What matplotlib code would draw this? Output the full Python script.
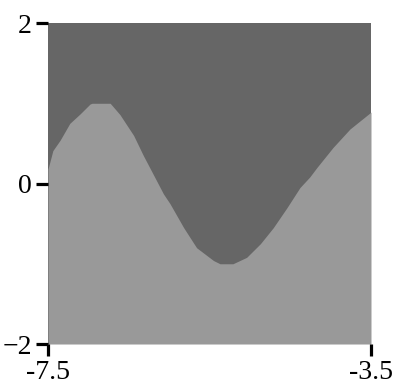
import numpy as np
import matplotlib.pyplot as plt

# boundary between the two regions
xb = [-7.5, -7.44, -7.35, -7.23, -7.1, -6.98, -6.955, -6.73, -6.61, -6.44,
      -6.32, -6.2, -6.07, -5.99, -5.82, -5.66, -5.45, -5.37, -5.21, -5.04,
      -4.87, -4.71, -4.54, -4.38, -4.26, -4.17, -3.97, -3.76, -3.5]
yb = [0.18, 0.41, 0.54, 0.75, 0.87, 0.99, 1.0, 1.0, 0.86, 0.6,
      0.35, 0.12, -0.13, -0.25, -0.55, -0.8, -0.96, -1.0, -1.0, -0.92,
      -0.75, -0.55, -0.3, -0.05, 0.08, 0.2, 0.45, 0.68, 0.89]
xticks = [-7.5, -3.5]
yticks = [-2, 0, 2]

plt.rcParams['font.family'] = ['Liberation Serif', 'DejaVu Serif']

fig = plt.figure(figsize=(3.97, 3.80), dpi=100)
ax = fig.add_axes([0.1209, 0.0947, 0.8136, 0.8447])
ax.set_facecolor('#666666')
ax.fill_between(xb, -2, yb, color='#999999', linewidth=0)
ax.set_xlim(-7.5, -3.5)
ax.set_ylim(-2, 2)
ax.set_xticks(xticks)
ax.set_xticklabels(['-7.5', '-3.5'])
ax.set_yticks(yticks)
ax.tick_params(length=8.5, width=2.3, labelsize=20, color='black', pad=3)
for s in ax.spines.values():
    s.set_visible(False)

fig.savefig('out.png', dpi=100)
